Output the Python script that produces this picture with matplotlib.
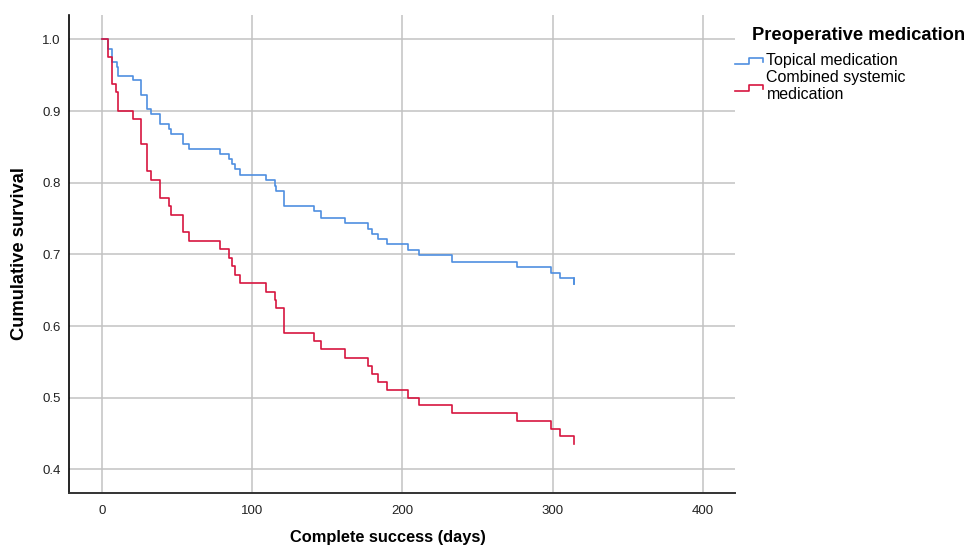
import matplotlib
matplotlib.use('Agg')
import matplotlib.pyplot as plt
from matplotlib.lines import Line2D
from matplotlib.legend_handler import HandlerBase

plt.rcParams['font.family'] = ['Liberation Sans', 'DejaVu Sans']

# Kaplan-Meier estimates
topical_days = [0, 4, 7, 10, 11, 21, 26, 30, 33, 39, 45, 46, 54, 58, 79, 85, 87, 89, 92,
                109, 115, 116, 121, 141, 146, 162, 177, 180, 184, 190, 204, 211, 233,
                276, 299, 305, 314]
topical_surv = [1.0, 0.987, 0.969, 0.962, 0.949, 0.943, 0.923, 0.903, 0.896, 0.882, 0.875,
                0.868, 0.854, 0.847, 0.840, 0.833, 0.826, 0.819, 0.811, 0.804, 0.796,
                0.789, 0.767, 0.760, 0.751, 0.744, 0.736, 0.729, 0.721, 0.714, 0.706,
                0.699, 0.690, 0.682, 0.674, 0.667, 0.659]

combined_days = [0, 4, 6.6, 9.7, 10.6, 21, 26, 30, 33, 39, 45, 46, 54, 58, 79, 85, 87, 89, 92,
                 109, 115, 116, 121, 141, 146, 162, 177, 180, 184, 190, 204, 211, 233,
                 276, 299, 305, 314]
combined_surv = [1.0, 0.975, 0.938, 0.926, 0.900, 0.889, 0.854, 0.816, 0.804, 0.779, 0.767,
                 0.755, 0.731, 0.719, 0.707, 0.695, 0.684, 0.671, 0.660, 0.648, 0.636,
                 0.625, 0.590, 0.579, 0.568, 0.556, 0.544, 0.533, 0.522, 0.511, 0.500,
                 0.490, 0.478, 0.467, 0.456, 0.446, 0.436]

labels = ['Topical medication', 'Combined systemic\nmedication']
colors = ['#4f8fe0', '#d7153f']
x_ticks = [0, 100, 200, 300, 400]
y_ticks = [0.4, 0.5, 0.6, 0.7, 0.8, 0.9, 1.0]


class StepHandler(HandlerBase):
    # small step-shaped legend key like SPSS draws
    def create_artists(self, legend, orig_handle, xdescent, ydescent, width, height,
                       fontsize, trans):
        x0 = -xdescent
        y0 = -ydescent
        xs = [x0, x0 + width * 0.5, x0 + width * 0.5, x0 + width, x0 + width]
        ys = [y0 + height * 0.1, y0 + height * 0.1, y0 + height * 0.65,
              y0 + height * 0.65, y0 + height * 0.25]
        ln = Line2D(xs, ys, color=orig_handle.get_color(), linewidth=1.2, transform=trans)
        return [ln]


fig = plt.figure(figsize=(9.7, 5.48), dpi=100)
ax = fig.add_axes([69 / 970, 1 - 493 / 548, 666 / 970, 478 / 548])

h1, = ax.step(topical_days, topical_surv, where='post', color=colors[0], linewidth=1.2)
ax.plot([topical_days[-1], topical_days[-1]], [topical_surv[-2], topical_surv[-1]],
        color=colors[0], linewidth=1.2)
h2, = ax.step(combined_days, combined_surv, where='post', color=colors[1], linewidth=1.2)

ax.set_xlim(-21.8, 421.4)
ax.set_ylim(0.367, 1.034)
ax.set_xticks(x_ticks)
ax.set_yticks(y_ticks)
ax.set_yticklabels([f'{v:.1f}' for v in y_ticks])
ax.tick_params(length=0, labelsize=9.5, colors='#222222')
ax.tick_params(axis='y', pad=6)
ax.tick_params(axis='x', pad=9)
ax.grid(True, color='#c2c2c2', linewidth=1.1)
ax.set_axisbelow(True)
for s in ['top', 'right']:
    ax.spines[s].set_visible(False)
ax.spines['left'].set_linewidth(1.2)
ax.spines['bottom'].set_linewidth(1.4)
ax.spines['bottom'].set_color('#333333')

ax.set_xlabel('Complete success (days)', fontsize=11.8, fontweight='bold')
ax.xaxis.set_label_coords(0.479, -0.078)
ax.set_ylabel('Cumulative survival', fontsize=13.2, fontweight='bold')
ax.yaxis.set_label_coords(-0.061, 0.5)

fig.text(752 / 970, 1 - 35 / 548, 'Preoperative medication', fontsize=13.2,
         fontweight='bold', ha='left', va='center')
fig.legend([h1, h2], labels, handler_map={Line2D: StepHandler()},
           loc='upper left', bbox_to_anchor=(735 / 970, 1 - 53 / 548), frameon=False,
           fontsize=11.5, handlelength=1.75, handletextpad=0.22, labelspacing=0.15,
           borderaxespad=0, borderpad=0)
for t in fig.legends[0].get_texts():
    t.set_linespacing(1.12)

fig.savefig('out.png', dpi=100)
